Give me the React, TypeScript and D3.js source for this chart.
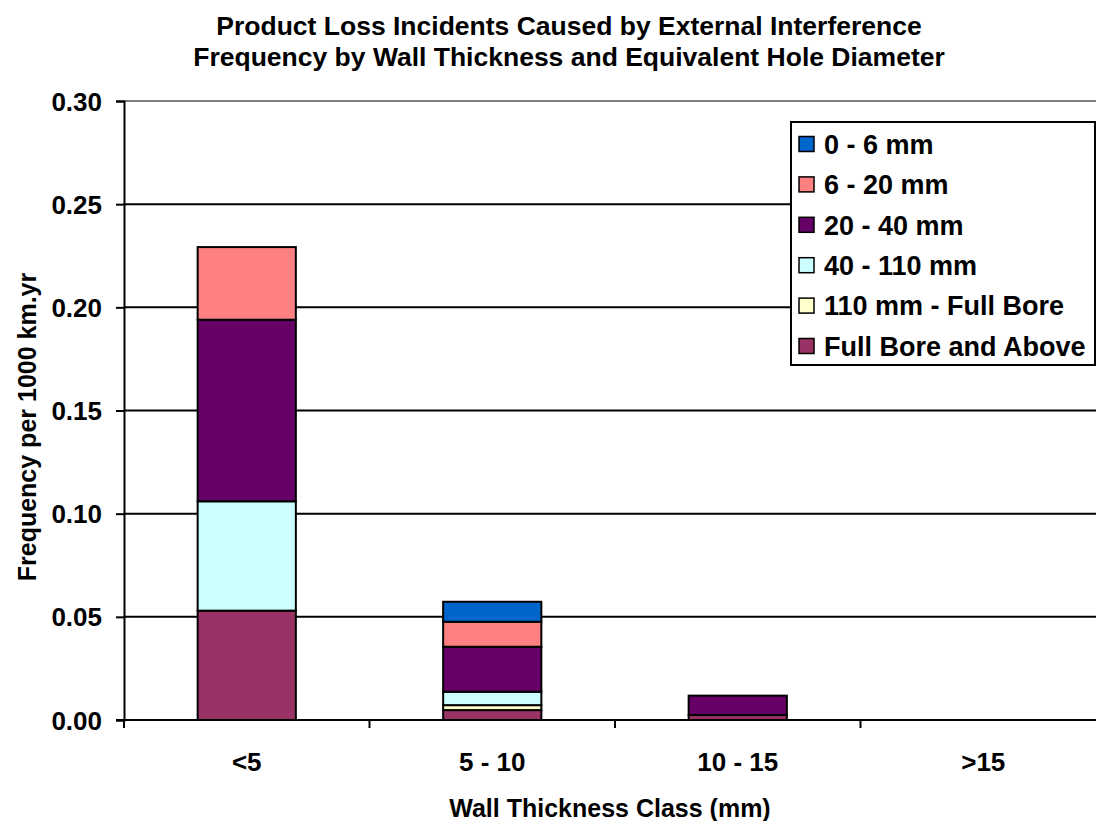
import { useEffect, useRef } from "react";
import { select, scaleBand, scaleLinear, stack, axisLeft, axisBottom } from "d3";

const categories = ["<5", "5 - 10", "10 - 15", ">15"];

// stacked bottom-up
const seriesNames = [
    "Full Bore and Above",
    "110 mm - Full Bore",
    "40 - 110 mm",
    "20 - 40 mm",
    "6 - 20 mm",
    "0 - 6 mm",
];
const seriesColors = ["#993366", "#FFFFCC", "#CCFFFF", "#660066", "#FF8080", "#0066CC"];

const fullBoreAbove = [0.053, 0.0048, 0.0024, 0];
const mm110FullBore = [0, 0.0024, 0, 0];
const mm40to110 = [0.053, 0.0065, 0, 0];
const mm20to40 = [0.088, 0.0218, 0.0094, 0];
const mm6to20 = [0.0352, 0.0121, 0, 0];
const mm0to6 = [0, 0.0097, 0, 0];

const yTicks = [0, 0.05, 0.1, 0.15, 0.2, 0.25, 0.3];

const titleLines = [
    "Product Loss Incidents Caused by External Interference",
    "Frequency by Wall Thickness and Equivalent Hole Diameter",
];

function App() {
    const svgRef = useRef<SVGSVGElement>(null);

    useEffect(() => {
        const Width = 1096;
        const Height = 821;
        const Margin = { top: 101, right: -10, bottom: 101, left: 124 };
        const innerBottom = Height - Margin.bottom;
        const innerRight = Width - Margin.right;

        const svg = select(svgRef.current);
        svg.selectAll("*").remove();

        const font = "'Liberation Sans', Arial, sans-serif";

        const table = categories.map((c, i) => ({
            cat: c,
            s0: fullBoreAbove[i],
            s1: mm110FullBore[i],
            s2: mm40to110[i],
            s3: mm20to40[i],
            s4: mm6to20[i],
            s5: mm0to6[i],
        }));
        const keys = ["s0", "s1", "s2", "s3", "s4", "s5"];
        const stacked = stack().keys(keys)(table as any);

        const xScale = scaleBand()
            .domain(categories)
            .range([Margin.left, innerRight])
            .paddingInner(0.6)
            .paddingOuter(0.3);

        const yScale = scaleLinear().domain([0, 0.3]).range([innerBottom, Margin.top]);

        // gridlines
        svg.append("g")
            .selectAll("line")
            .data(yTicks.filter((t) => t > 0 && t < 0.3))
            .join("line")
            .attr("x1", Margin.left)
            .attr("x2", innerRight)
            .attr("y1", (d) => yScale(d))
            .attr("y2", (d) => yScale(d))
            .attr("stroke", "#000")
            .attr("stroke-width", 2);

        // plot area top border
        svg.append("line")
            .attr("x1", Margin.left)
            .attr("x2", innerRight)
            .attr("y1", yScale(0.3))
            .attr("y2", yScale(0.3))
            .attr("stroke", "#808080")
            .attr("stroke-width", 2);

        // bars
        svg.append("g")
            .selectAll("g")
            .data(stacked)
            .join("g")
            .attr("fill", (d, i) => seriesColors[i])
            .selectAll("rect")
            .data((d) => d.filter((p) => p[1] - p[0] > 0))
            .join("rect")
            .attr("x", (p: any) => xScale(p.data.cat)!)
            .attr("width", xScale.bandwidth())
            .attr("y", (p) => yScale(p[1]))
            .attr("height", (p) => yScale(p[0]) - yScale(p[1]))
            .attr("stroke", "#000")
            .attr("stroke-width", 2);

        // y axis
        const yAxis = axisLeft(yScale)
            .tickValues(yTicks)
            .tickSize(8)
            .tickPadding(14)
            .tickFormat((d) => (+d).toFixed(2));
        const yG = svg.append("g")
            .attr("transform", `translate(${Margin.left},0)`)
            .call(yAxis);
        yG.select(".domain").attr("stroke", "#000").attr("stroke-width", 2);
        yG.selectAll(".tick line").attr("stroke", "#000").attr("stroke-width", 2);
        yG.selectAll(".tick text")
            .attr("fill", "#000")
            .attr("dy", "0.35em")
            .style("font-family", font)
            .style("font-weight", "bold")
            .style("font-size", "26px");

        // x axis
        const xAxis = axisBottom(xScale).tickSize(0);
        const xG = svg.append("g")
            .attr("transform", `translate(0,${innerBottom})`)
            .call(xAxis);
        xG.select(".domain").remove();
        xG.append("line")
            .attr("x1", Margin.left - 8)
            .attr("x2", innerRight)
            .attr("stroke", "#000")
            .attr("stroke-width", 2);
        const boundaries = categories.map((c, i) => Margin.left + i * (innerRight - Margin.left) / categories.length);
        xG.selectAll(".bound")
            .data(boundaries)
            .join("line")
            .attr("class", "bound")
            .attr("x1", (d) => d)
            .attr("x2", (d) => d)
            .attr("y1", 0)
            .attr("y2", 8)
            .attr("stroke", "#000")
            .attr("stroke-width", 2);
        xG.selectAll(".tick text")
            .attr("fill", "#000")
            .attr("y", 51)
            .attr("dy", 0)
            .style("font-family", font)
            .style("font-weight", "bold")
            .style("font-size", "26px");

        // titles
        svg.append("text")
            .attr("text-anchor", "middle")
            .attr("x", 569)
            .attr("y", 35)
            .style("font-family", font)
            .style("font-weight", "bold")
            .style("font-size", "26.5px")
            .selectAll("tspan")
            .data(titleLines)
            .join("tspan")
            .attr("x", 569)
            .attr("dy", (d, i) => (i === 0 ? 0 : 31))
            .text((d) => d);

        svg.append("text")
            .attr("text-anchor", "middle")
            .attr("x", 610)
            .attr("y", 817)
            .style("font-family", font)
            .style("font-weight", "bold")
            .style("font-size", "25px")
            .text("Wall Thickness Class (mm)");

        svg.append("text")
            .attr("text-anchor", "middle")
            .attr("transform", `translate(36,427) rotate(-90)`)
            .style("font-family", font)
            .style("font-weight", "bold")
            .style("font-size", "25px")
            .text("Frequency per 1000 km.yr");

        // legend
        const legend = svg.append("g").attr("transform", "translate(791,122)");
        legend.append("rect")
            .attr("width", 304)
            .attr("height", 243)
            .attr("fill", "#fff")
            .attr("stroke", "#000")
            .attr("stroke-width", 2);
        const items = legend.selectAll(".item")
            .data(seriesNames.map((n, i) => ({ n, c: seriesColors[i] })).reverse())
            .join("g")
            .attr("class", "item")
            .attr("transform", (d, i) => `translate(0,${22 + i * 40.4})`);
        items.append("rect")
            .attr("x", 8)
            .attr("y", -7.5)
            .attr("width", 15)
            .attr("height", 15)
            .attr("fill", (d) => d.c)
            .attr("stroke", "#000")
            .attr("stroke-width", 1.5);
        items.append("text")
            .attr("x", 33)
            .attr("dy", "0.36em")
            .style("font-family", font)
            .style("font-weight", "bold")
            .style("font-size", "27px")
            .text((d) => d.n);
    }, []);

    return (
        <svg
            ref={svgRef}
            width={1096}
            height={821}
            style={{ position: "absolute", left: 0, top: 0, background: "#fff" }}
        ></svg>
    );
}

export default App;
